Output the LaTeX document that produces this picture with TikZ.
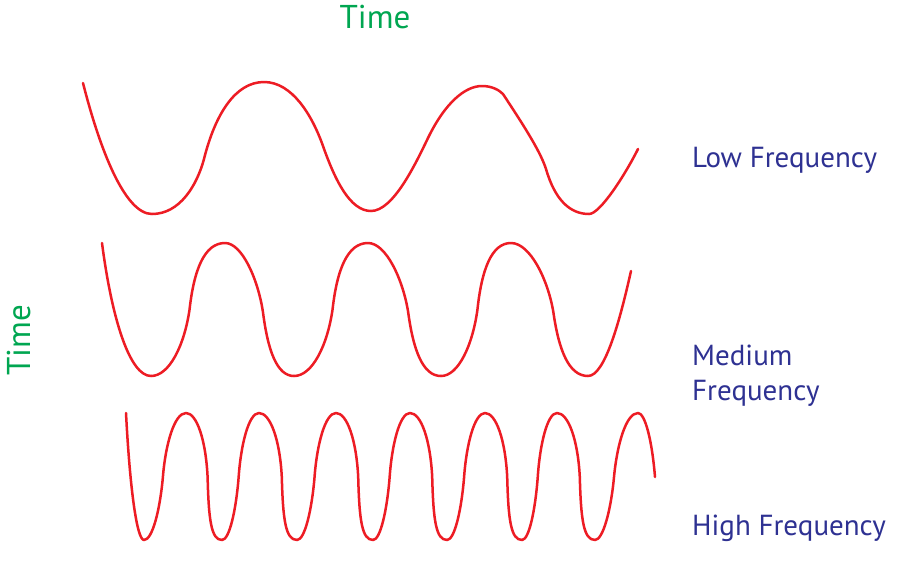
\documentclass[tikz,border=0pt]{standalone}
\usepackage{fontspec}
\setmainfont{PT Sans}
\definecolor{wavered}{RGB}{237,28,36}
\definecolor{labgreen}{RGB}{0,166,81}
\definecolor{labblue}{RGB}{46,49,146}
\begin{document}
\begin{tikzpicture}[x=1pt,y=-1pt,
  wave/.style={draw=wavered,line width=2.5pt,line cap=round,line join=round},
  timelab/.style={text=labgreen,font=\fontsize{33}{38}\selectfont,inner sep=0pt},
  freqlab/.style={text=labblue,font=\fontsize{29}{36}\selectfont,inner sep=0pt,anchor=base west,align=left}]
\path[use as bounding box,fill=white] (0,0) rectangle (900,566);
% labels
\node[timelab,anchor=base] (ttop) at (375,28) {Time};
\node[timelab,anchor=base,rotate=90] (tleft) at (30,340) {Time};
\node[freqlab] (low) at (692,167) {Low Frequency};
\node[freqlab] (med) at (692,400) {Medium\\[-1pt]Frequency};
\node[freqlab] (high) at (692,535) {High Frequency};
% low frequency wave
\draw[wave] (83,83) .. controls (100,150) and (125,214) .. (152,214)
  .. controls (180,214) and (197,185) .. (204,159)
  .. controls (215,115) and (235,82) .. (264,82)
  .. controls (292,82) and (312,115) .. (323,146)
  .. controls (335,180) and (350,211) .. (371,211)
  .. controls (393,211) and (415,165) .. (428,138)
  .. controls (445,103) and (465,86) .. (482,86)
  .. controls (492,86) and (499,90) .. (503,94)
  .. controls (520,120) and (540,150) .. (546,169)
  .. controls (555,200) and (570,214) .. (589,214)
  .. controls (600,214) and (625,175) .. (638,149);
% medium frequency wave
\draw[wave] (102,243) .. controls (112,320) and (130,376) .. (151,376);
\foreach \m/\p/\n in {151/225/294, 294/368/441, 441/511/588}{
  \pgfmathsetmacro{\d}{\p-\m}
  \pgfmathsetmacro{\e}{\n-\p}
  \draw[wave] (\m,376) .. controls ({\m+0.25*\d},376) and ({\m+0.45*\d},345) .. ({\m+0.52*\d},310)
    .. controls ({\m+0.58*\d},270) and ({\m+0.72*\d},243) .. (\p,243)
    .. controls ({\p+0.25*\e},243) and ({\p+0.48*\e},280) .. ({\p+0.55*\e},312)
    .. controls ({\p+0.62*\e},350) and ({\p+0.75*\e},376) .. (\n,376);
}
\draw[wave] (588,376) .. controls (605,376) and (620,320) .. (631,271);
% high frequency wave
\draw[wave] (126,413) .. controls (130,490) and (137,540) .. (144,540);
\foreach \m/\p/\n in {144/186/222, 222/259/297, 297/336/373, 373/410/447, 447/485/522, 522/557/595}{
  \pgfmathsetmacro{\d}{\p-\m}
  \pgfmathsetmacro{\e}{\n-\p}
  \draw[wave] (\m,540) .. controls ({\m+0.2*\d},540) and ({\m+0.38*\d},510) .. ({\m+0.45*\d},477)
    .. controls ({\m+0.51*\d},445) and ({\m+0.72*\d},413) .. (\p,413)
    .. controls ({\p+0.3*\e},413) and ({\p+0.55*\e},440) .. ({\p+0.6*\e},477)
    .. controls ({\p+0.63*\e},520) and ({\p+0.7*\e},540) .. (\n,540);
}
\draw[wave] (595,540) .. controls (603,540) and (611,510) .. (614,477)
  .. controls (617,445) and (626,413) .. (638,413)
  .. controls (645,413) and (652,440) .. (655,477);
\end{tikzpicture}
\end{document}
